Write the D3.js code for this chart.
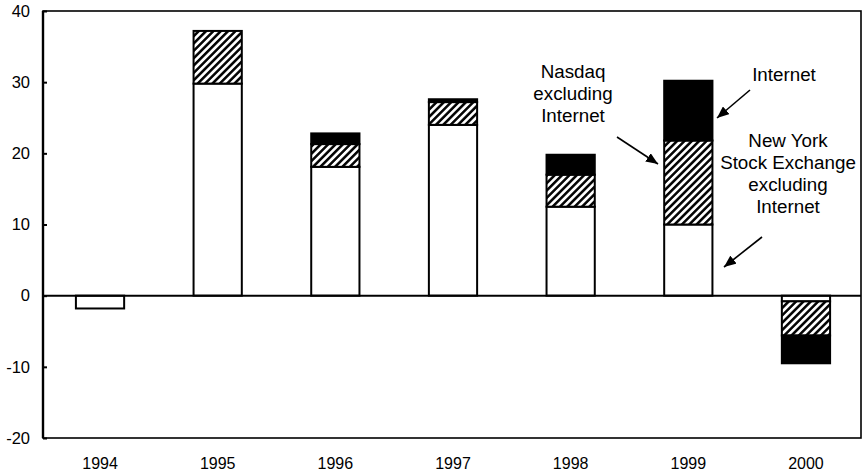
<!DOCTYPE html>
<html><head><meta charset="utf-8">
<script src="https://cdn.jsdelivr.net/npm/d3@7"></script>
<style>body{margin:0;background:#fff}svg{display:block}text{font-family:"Liberation Sans",Arial,sans-serif;fill:#000}</style>
</head><body>
<script>
const years = ["1994","1995","1996","1997","1998","1999","2000"];
const nyse = [-1.8, 29.8, 18.1, 24.0, 12.5, 10.0, -0.8];
const nasdaq = [0, 7.4, 3.2, 3.2, 4.5, 11.8, -4.8];
const internet = [0, 0, 1.5, 0.4, 2.8, 8.4, -3.9];
const yTicks = [-20, -10, 0, 10, 20, 30, 40];
const seriesKeys = ["nyse", "nasdaq", "internet"];

const W = 863, H = 474;
const svg = d3.select("body").append("svg").attr("width", W).attr("height", H);
const defs = svg.append("defs");
const pat = defs.append("pattern").attr("id","hatch").attr("patternUnits","userSpaceOnUse")
  .attr("width",5.2).attr("height",5.2).attr("patternTransform","rotate(45)");
pat.append("rect").attr("width",5.2).attr("height",5.2).attr("fill","#fff");
pat.append("line").attr("x1",1.3).attr("x2",1.3).attr("y1",0).attr("y2",5.2).attr("stroke","#000").attr("stroke-width",2.5);

const mL = 43, mR = 861, mT = 11, mB = 438;
const y = d3.scaleLinear().domain([-20, 40]).range([mB, mT]);
const x = d3.scaleBand().domain(years).range([41.2, 864.8]).paddingInner(0.59).paddingOuter(0.295);

const table = years.map((yr, i) => ({year: yr, nyse: nyse[i], nasdaq: nasdaq[i], internet: internet[i]}));
const stack = d3.stack().keys(seriesKeys).offset(d3.stackOffsetDiverging)(table);
const fills = {nyse: "#fff", nasdaq: "url(#hatch)", internet: "#000"};

stack.forEach(s => {
  svg.append("g").selectAll("rect").data(s.filter(d => d[1] - d[0] !== 0)).join("rect")
    .attr("x", d => x(d.data.year))
    .attr("width", x.bandwidth())
    .attr("y", d => y(Math.max(d[0], d[1])))
    .attr("height", d => Math.abs(y(d[0]) - y(d[1])))
    .attr("fill", fills[s.key])
    .attr("stroke", "#000").attr("stroke-width", 2);
});

// frame
svg.append("rect").attr("x", mL).attr("y", mT).attr("width", mR-mL).attr("height", mB-mT)
  .attr("fill","none").attr("stroke","#000").attr("stroke-width",1.6);
svg.append("line").attr("x1",mL).attr("x2",mL).attr("y1",mT).attr("y2",mB).attr("stroke","#000").attr("stroke-width",2.4);
svg.append("line").attr("x1",mL).attr("x2",mR).attr("y1",y(0)).attr("y2",y(0)).attr("stroke","#000").attr("stroke-width",2);

// y axis
const yAxis = d3.axisLeft(y).tickValues(yTicks).tickSize(-4).tickPadding(13).tickFormat(d => String(d));
const ga = svg.append("g").attr("transform", `translate(${mL},0)`).call(yAxis);
ga.select(".domain").remove();
ga.selectAll("line").attr("stroke","#000").attr("stroke-width",2);
ga.selectAll("text").attr("font-size", 16.5).attr("font-family", '"Liberation Sans",Arial,sans-serif');

// x labels
const xAxis = d3.axisBottom(x).tickSize(0).tickPadding(20);
const gx = svg.append("g").attr("transform", `translate(0,${mB})`).call(xAxis);
gx.select(".domain").remove();
gx.selectAll("text").attr("font-size", 16).attr("font-family", '"Liberation Sans",Arial,sans-serif');

// annotations
defs.append("marker").attr("id","arr").attr("viewBox","0 0 12 10").attr("refX",12).attr("refY",5)
  .attr("markerWidth",12).attr("markerHeight",10).attr("markerUnits","userSpaceOnUse").attr("orient","auto")
  .append("path").attr("d","M0,0 L12,5 L0,10 Z").attr("fill","#000");

const labels = [
  {x: 573, y: 78, lines: ["Nasdaq","excluding","Internet"]},
  {x: 784, y: 81, lines: ["Internet"]},
  {x: 788, y: 147, lines: ["New York","Stock Exchange","excluding","Internet"]}
];
labels.forEach(l => {
  const t = svg.append("text").attr("text-anchor","middle").attr("font-size",18.8);
  l.lines.forEach((s, i) => t.append("tspan").attr("x", l.x).attr("y", l.y + i*22).text(s));
});
const arrows = [
  [617, 137, 658, 164],
  [750, 90, 717, 118],
  [762, 237, 724, 267]
];
arrows.forEach(a => svg.append("line").attr("x1",a[0]).attr("y1",a[1]).attr("x2",a[2]).attr("y2",a[3])
  .attr("stroke","#000").attr("stroke-width",1.6).attr("marker-end","url(#arr)"));
</script>
</body></html>
